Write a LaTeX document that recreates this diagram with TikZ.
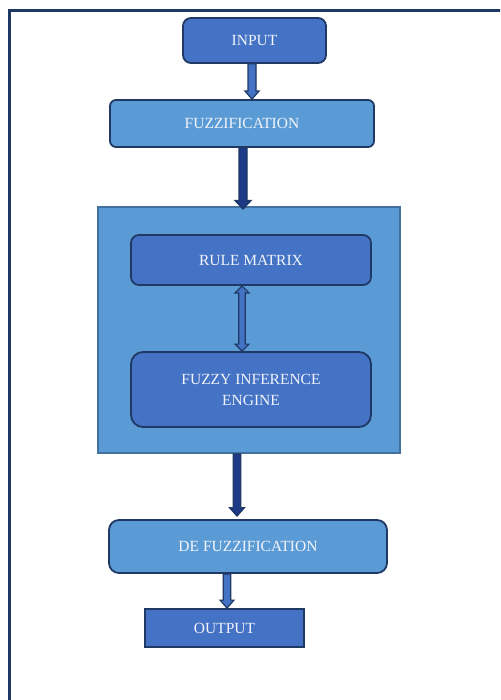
\documentclass[tikz,border=0pt]{standalone}
\usepackage{fontspec}
\setmainfont{Liberation Serif}
\usetikzlibrary{calc}
\definecolor{lblue}{HTML}{5B9BD5}
\definecolor{dblue}{HTML}{4472C4}
\definecolor{navy}{HTML}{1F3864}
\definecolor{bbord}{HTML}{41719C}
\definecolor{arrdark}{HTML}{1D3A86}
\definecolor{txt}{HTML}{F2F4FA}
\newcommand\blkarrow[6]{% start, end, shaft half, head half, head length, fill
  \filldraw[fill=#6, draw=navy, line width=1.2pt, line join=miter]
    ($(#1)+(-#3,0)$) -- ($(#2)+(-#3,-#5)$) -- ($(#2)+(-#4,-#5)$) -- (#2)
    -- ($(#2)+(#4,-#5)$) -- ($(#2)+(#3,-#5)$) -- ($(#1)+(#3,0)$) -- cycle;}
\newcommand\dblarrow[6]{%
  \filldraw[fill=#6, draw=navy, line width=1.2pt, line join=miter]
    (#1) -- ($(#1)+(#4,#5)$) -- ($(#1)+(#3,#5)$) -- ($(#2)+(#3,-#5)$)
    -- ($(#2)+(#4,-#5)$) -- (#2) -- ($(#2)+(-#4,-#5)$) -- ($(#2)+(-#3,-#5)$)
    -- ($(#1)+(-#3,#5)$) -- ($(#1)+(-#4,#5)$) -- cycle;}
\begin{document}
\begin{tikzpicture}[x=1pt,y=-1pt,
  box/.style={draw=navy, line width=1.8pt, text=txt, font=\fontsize{15.5}{20}\selectfont,
    inner sep=0pt, align=center},
  lbox/.style={box, fill=lblue},
  dbox/.style={box, fill=dblue}]
\useasboundingbox (0,0) rectangle (500,700);
\begin{scope}
\clip (0,0) rectangle (500,700);
\draw[navy, line width=2.4pt] (9.5,10.5) rectangle (520,720);
\end{scope}
\node[dbox, rounded corners=8pt, minimum width=143pt, minimum height=45pt] (input) at (254.5,40.5) {\raisebox{-1pt}{INPUT}};
\node[lbox, rounded corners=6pt, minimum width=264pt, minimum height=47pt] (fuzz) at (242,123.5) {\raisebox{-1pt}{FUZZIFICATION}};
\node[draw=bbord, line width=1.8pt, fill=lblue, minimum width=302pt, minimum height=246pt, inner sep=0pt] (big) at (249,330) {};
\node[dbox, rounded corners=8pt, minimum width=240pt, minimum height=50pt] (rule) at (251,260) {\raisebox{-1pt}{RULE MATRIX}};
\node[dbox, rounded corners=12pt, minimum width=240pt, minimum height=75pt] (fie) at (251,389.5) {FUZZY INFERENCE\\[1pt]ENGINE};
\node[lbox, rounded corners=10pt, minimum width=278pt, minimum height=53pt] (defuzz) at (248,546.5) {\raisebox{-1pt}{DE FUZZIFICATION}};
\node[dbox, minimum width=159pt, minimum height=38pt] (output) at (224.5,628) {\raisebox{-1.5pt}{OUTPUT}};
% arrow positions
\coordinate (x1) at (252,0);
\coordinate (x2) at (243,0);
\coordinate (x3) at (242,0);
\coordinate (x4) at (237,0);
\coordinate (x5) at (227,0);
\coordinate (a1s) at (input.south -| x1);
\coordinate (a1e) at (fuzz.north -| x1);
\coordinate (a2s) at (fuzz.south -| x2);
\coordinate (a2e) at ($(big.north -| x2)+(0,3)$);
\coordinate (a3s) at (rule.south -| x3);
\coordinate (a3e) at (fie.north -| x3);
\coordinate (a4s) at (big.south -| x4);
\coordinate (a4e) at ($(defuzz.north -| x4)+(0,-3)$);
\coordinate (a5s) at (defuzz.south -| x5);
\coordinate (a5e) at (output.north -| x5);
\blkarrow{a1s}{a1e}{4}{7}{8}{dblue}
\blkarrow{a2s}{a2e}{4}{8}{8.5}{arrdark}
\dblarrow{a3s}{a3e}{3.2}{7}{7}{dblue}
\blkarrow{a4s}{a4e}{3.8}{7.5}{8.5}{arrdark}
\blkarrow{a5s}{a5e}{3.8}{7}{8}{dblue}
\end{tikzpicture}
\end{document}
